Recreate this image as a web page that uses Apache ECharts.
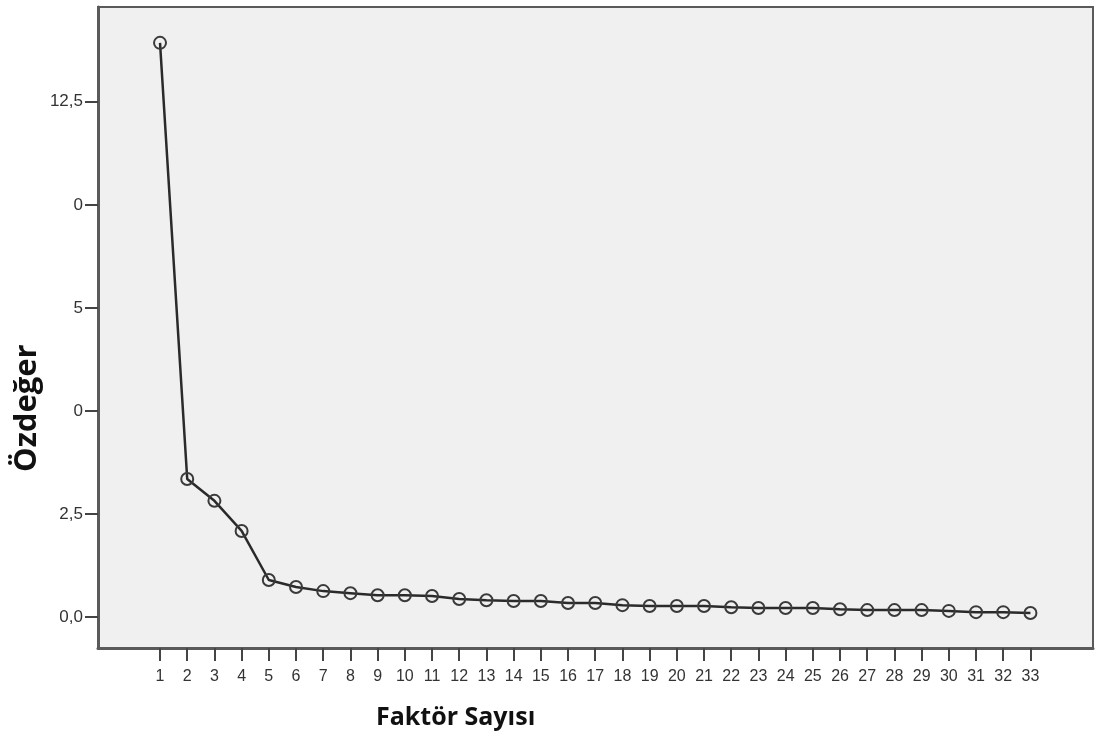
<!DOCTYPE html>
<html>
<head>
<meta charset="utf-8">
<script src="https://cdn.jsdelivr.net/npm/echarts@6/dist/echarts.min.js"></script>
<style>
    html, body { margin: 0; padding: 0; background: #fff; }
    #scree { width: 1101px; height: 749px; }
</style>
</head>
<body>
<div id="scree"></div>
<script>
    // faktör numaraları ve özdeğerler
    var factors = [1, 2, 3, 4, 5, 6, 7, 8, 9, 10, 11, 12, 13, 14, 15, 16, 17,
        18, 19, 20, 21, 22, 23, 24, 25, 26, 27, 28, 29, 30, 31, 32, 33];
    var eigenvalues = [13.93, 3.35, 2.82, 2.09, 0.90, 0.73, 0.63, 0.58, 0.53, 0.53, 0.51,
        0.44, 0.41, 0.39, 0.39, 0.34, 0.34, 0.29, 0.27, 0.27, 0.27, 0.24, 0.22,
        0.22, 0.22, 0.19, 0.17, 0.17, 0.17, 0.15, 0.12, 0.12, 0.10];
    var yTicks = [0, 2.5, 5, 7.5, 10, 12.5];
    var yTickLabels = ['0,0', '2,5', '0', '5', '0', '12,5'];

    var chart = echarts.init(document.getElementById('scree'));

    var pts = factors.map(function (f, i) { return [f, eigenvalues[i]]; });

    var option = {
      animation: false,
      grid: {
        left: 98, top: 7, right: 8, bottom: 101,
        show: true,
        backgroundColor: '#f0f0f0',
        borderColor: '#5a5a5a',
        borderWidth: 2
      },
      xAxis: {
        type: 'value',
        min: -1.28,
        max: 35.3,
        splitLine: { show: false },
        axisLine: { show: true, onZero: false, lineStyle: { color: '#5a5a5a', width: 3 } },
        axisTick: { show: true, customValues: factors, length: 13, lineStyle: { color: '#444', width: 2 } },
        axisLabel: {
          customValues: factors,
          color: '#333',
          fontFamily: 'Liberation Sans, Arial, sans-serif',
          fontSize: 16,
          margin: 21
        }
      },
      yAxis: {
        type: 'value',
        min: -0.75,
        max: 14.8,
        splitLine: { show: false },
        axisLine: { show: true, onZero: false, lineStyle: { color: '#5a5a5a', width: 3 } },
        axisTick: { show: true, customValues: yTicks, length: 13, lineStyle: { color: '#444', width: 2 } },
        axisLabel: {
          customValues: yTicks,
          color: '#333',
          fontFamily: 'Liberation Sans, Arial, sans-serif',
          fontSize: 17,
          margin: 15,
          formatter: function (v) {
            var idx = yTicks.indexOf(v);
            return idx >= 0 ? yTickLabels[idx] : '';
          }
        }
      },
      graphic: [
        {
          type: 'text',
          left: 376, top: 705,
          style: {
            text: 'Faktör Sayısı',
            font: 'bold 25px "Open Sans", "Noto Sans", sans-serif',
            fill: '#111'
          }
        },
        {
          type: 'text',
          x: 12, y: 472,
          rotation: Math.PI / 2,
          style: {
            text: 'Özdeğer',
            font: 'bold 31px "Open Sans", "Noto Sans", sans-serif',
            fill: '#111'
          }
        }
      ],
      series: [
        {
          type: 'line',
          data: pts,
          symbol: 'circle',
          symbolSize: 12,
          showAllSymbol: true,
          lineStyle: { color: '#2a2a2a', width: 2.5 },
          itemStyle: { color: 'rgba(0,0,0,0)', borderColor: '#3a3a3a', borderWidth: 2 }
        }
      ]
    };

    chart.setOption(option);
</script>
</body>
</html>
